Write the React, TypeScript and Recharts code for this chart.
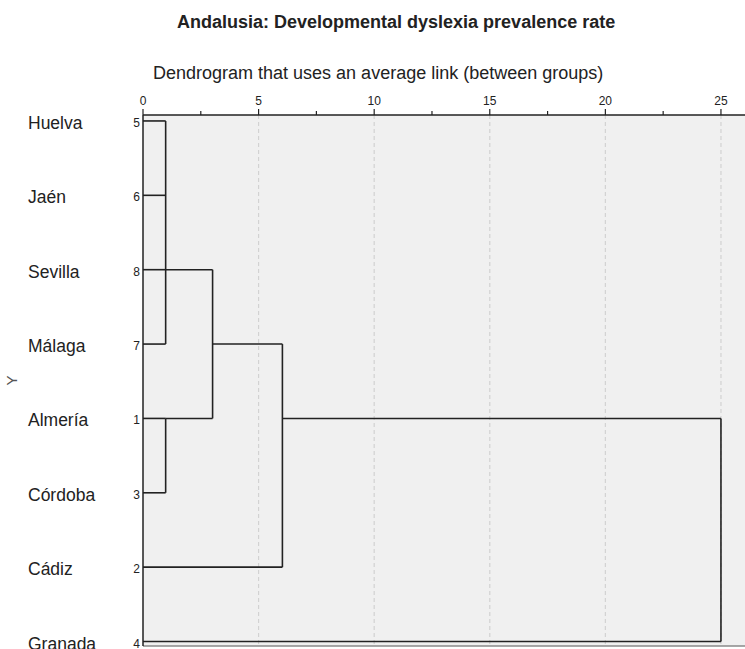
import React from 'react';
import { ScatterChart, Scatter, XAxis, YAxis, ReferenceLine, ReferenceArea } from 'recharts';

// leaves, top to bottom, as SPSS orders them
const provinces = ['Huelva', 'Jaén', 'Sevilla', 'Málaga', 'Almería', 'Córdoba', 'Cádiz', 'Granada'];
const caseIds = [5, 6, 8, 7, 1, 3, 2, 4];

const majorTicks = [0, 5, 10, 15, 20, 25];
const minorTicks = [2.5, 7.5, 12.5, 17.5, 22.5];

// rescaled distance of each join; row = where the joined cluster's connector leaves
const joins = [
  { id: 'A', kids: ['Huelva', 'Jaén', 'Sevilla', 'Málaga'], height: 0.98, row: 2 },
  { id: 'B', kids: ['Almería', 'Córdoba'], height: 0.98, row: 4 },
  { id: 'C', kids: ['A', 'B'], height: 3.01, row: 3 },
  { id: 'D', kids: ['C', 'Cádiz'], height: 6.03, row: 4 },
  { id: 'E', kids: ['D', 'Granada'], height: 25, row: 4 },
];

const FONT = '"Liberation Sans", Arial, sans-serif';
const INK = '#222';
const X_MAX = 26.04;
const ROW_MIN = -0.08;
const ROW_MAX = 7.06;

const nodePos = (name: string) => {
  const leaf = provinces.indexOf(name);
  if (leaf >= 0) return { h: 0, row: leaf };
  const j = joins.find((n) => n.id === name)!;
  return { h: j.height, row: j.row };
};

const segments = joins.flatMap((j) => {
  const kids = j.kids.map(nodePos);
  const rows = kids.map((k) => k.row);
  return [
    ...kids.map((k) => [
      { x: k.h, y: k.row },
      { x: j.height, y: k.row },
    ]),
    [
      { x: j.height, y: Math.min(...rows) },
      { x: j.height, y: Math.max(...rows) },
    ],
  ];
});

const leafPoints = provinces.map((name, i) => ({ x: 0, y: i, name }));

const XTick = (props: any) => {
  const { x, y, payload } = props;
  const major = majorTicks.includes(payload.value);
  return (
    <g>
      <line x1={x} x2={x} y1={y} y2={y - (major ? 6 : 4)} stroke={INK} strokeWidth={1.2} />
      {major && (
        <text x={x} y={y - 10} textAnchor="middle" fontSize={12} fill={INK} fontFamily={FONT}>
          {payload.value}
        </text>
      )}
    </g>
  );
};

const YTick = (props: any) => {
  const { x, y, payload } = props;
  const i = payload.value;
  return (
    <g fontFamily={FONT} fill={INK}>
      <text x={x - 115} y={y + 8} fontSize={17.5} textAnchor="start">
        {provinces[i]}
      </text>
      <text x={x - 3} y={y + 6} fontSize={12} textAnchor="end">
        {caseIds[i]}
      </text>
    </g>
  );
};

const YLabel = (props: any) => {
  const { viewBox } = props;
  const cx = viewBox.x + 11;
  const cy = viewBox.y + viewBox.height / 2;
  return (
    <text x={cx} y={cy} transform={`rotate(-90 ${cx} ${cy})`} textAnchor="middle" dominantBaseline="central"
      fontSize={15} fill="#555" fontFamily={FONT}>
      Y
    </text>
  );
};

const App: React.FC = () => {
  return (
    <div style={{ position: 'fixed', left: 0, top: 0, width: 745, height: 649, overflow: 'hidden', background: '#fff', fontFamily: FONT }}>
      <ScatterChart width={745} height={649} margin={{ top: 85, right: 0, bottom: 3, left: 0 }}>
        <XAxis
          type="number"
          dataKey="x"
          orientation="top"
          domain={[0, X_MAX]}
          allowDataOverflow
          ticks={[...majorTicks, ...minorTicks].sort((a, b) => a - b)}
          interval={0}
          height={30}
          tickSize={0}
          tickMargin={0}
          tickLine={false}
          tick={<XTick />}
          axisLine={{ stroke: INK, strokeWidth: 1.5 }}
        />
        <YAxis
          type="number"
          dataKey="y"
          domain={[ROW_MIN, ROW_MAX]}
          allowDataOverflow
          reversed
          ticks={provinces.map((_, i) => i)}
          interval={0}
          width={143}
          tickSize={0}
          tickMargin={0}
          tickLine={false}
          tick={<YTick />}
          axisLine={{ stroke: INK, strokeWidth: 1.5 }}
          label={YLabel}
        />
        <ReferenceArea x1={0} x2={X_MAX} y1={ROW_MIN} y2={ROW_MAX} fill="#f0f0f0" fillOpacity={1} stroke="none" ifOverflow="visible" />
        {majorTicks.slice(1).map((t) => (
          <ReferenceLine key={`g${t}`} x={t} stroke="#d2d2d2" strokeWidth={1.2} strokeDasharray="4 3" />
        ))}
        <ReferenceLine y={ROW_MAX} stroke="#8a8a8a" strokeWidth={1.5} ifOverflow="visible" />
        {segments.map((seg, i) => (
          <ReferenceLine key={`s${i}`} segment={seg} stroke={INK} strokeWidth={1.6} ifOverflow="visible" />
        ))}
        <Scatter data={leafPoints} isAnimationActive={false} shape={() => <g />} />
      </ScatterChart>
      <svg width={745} height={90} style={{ position: 'absolute', left: 0, top: 0 }}>
        <text x={177} y={28} fontSize={18} fontWeight="bold" fill={INK} fontFamily={FONT}>
          Andalusia: Developmental dyslexia prevalence rate
        </text>
        <text x={153} y={79} fontSize={18} fill={INK} fontFamily={FONT}>
          Dendrogram that uses an average link (between groups)
        </text>
      </svg>
    </div>
  );
};

export default App;
